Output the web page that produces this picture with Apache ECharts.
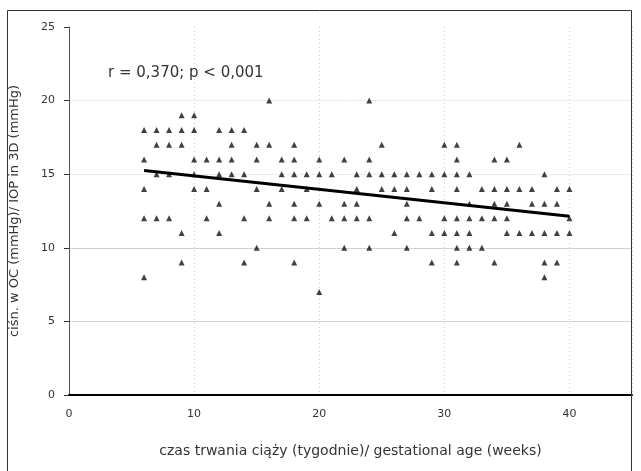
<!DOCTYPE html>
<html>
<head>
<meta charset="utf-8">
<script src="https://cdn.jsdelivr.net/npm/echarts@6/dist/echarts.min.js"></script>
<style>
html,body{margin:0;padding:0;background:#fff;}
#chart{width:641px;height:471px;}
</style>
</head>
<body>
<div id="chart"></div>
<script>
// gestational age (weeks) and measured values, one array per week
const weeks = [6,7,8,9,10,11,12,13,14,15,16,17,18,19,20,21,22,23,24,25,26,27,28,29,30,31,32,33,34,35,36,37,38,39,40];
const valuesByWeek = [
  [18,16,14,12,8],
  [18,17,15,12],
  [18,17,15,12],
  [19,18,17,11,9],
  [19,18,16,15,14],
  [16,14,12],
  [18,16,15,13,11],
  [18,17,16,15],
  [18,15,12,9],
  [17,16,14,10],
  [20,17,13,12],
  [16,15,14],
  [17,16,15,13,12,9],
  [15,14,12],
  [16,15,13,7],
  [15,12],
  [16,13,12,10],
  [15,14,13,12],
  [20,16,15,12,10],
  [17,15,14],
  [15,14,11],
  [15,14,13,12,10],
  [15,12],
  [15,14,11,9],
  [17,15,12,11],
  [17,16,15,14,12,11,10,9],
  [15,13,12,11,10],
  [14,12,10],
  [16,14,13,12,9],
  [16,14,13,12,11],
  [17,14,11],
  [14,13,11],
  [15,13,11,9,8],
  [14,13,11,9],
  [14,12,11]
];
const trendX = [6, 40];
const trendY = [15.25, 12.15];
const xTicks = [0, 10, 20, 30, 40];
const yTicks = [0, 5, 10, 15, 20, 25];
const annotation = 'r = 0,370; p < 0,001';
const xTitle = 'czas trwania ciąży (tygodnie)/ gestational age (weeks)';
const yTitle = 'ciśn. w OC (mmHg)/ IOP in 3D (mmHg)';

const points = [];
weeks.forEach((w, i) => valuesByWeek[i].forEach(v => points.push([w, v])));
const trend = trendX.map((x, i) => [x, trendY[i]]);

const FONT = '"DejaVu Sans", "Liberation Sans", Arial, sans-serif';
const chart = echarts.init(document.getElementById('chart'), null, {renderer: 'canvas'});
chart.setOption({
  animation: false,
  backgroundColor: '#fff',
  grid: {left: 68, right: 9, top: 27, bottom: 76, containLabel: false},
  xAxis: {
    type: 'value', min: 0, max: 45, interval: 10,
    name: xTitle, nameLocation: 'middle', nameGap: 49,
    nameTextStyle: {fontFamily: FONT, fontSize: 14, color: '#333'},
    axisLine: {show: true, lineStyle: {color: '#000', width: 2}},
    axisTick: {show: false},
    axisLabel: {fontFamily: FONT, fontSize: 11, color: '#333', margin: 14,
      formatter: v => xTicks.includes(v) ? String(v) : ''},
    splitLine: {show: true, lineStyle: {color: '#cfcfcf', type: [1, 3], width: 1}}
  },
  yAxis: {
    type: 'value', min: 0, max: 25, interval: 5,
    name: yTitle, nameLocation: 'middle', nameGap: 48, nameRotate: 90,
    nameTextStyle: {fontFamily: FONT, fontSize: 13, color: '#333'},
    axisLine: {show: true, lineStyle: {color: '#555', width: 1}},
    axisTick: {show: true, length: 5, lineStyle: {color: '#333'}},
    axisLabel: {fontFamily: FONT, fontSize: 11, color: '#333', margin: 14,
      formatter: v => yTicks.includes(v) ? String(v) : ''},
    splitLine: {show: true, lineStyle: {color: ['transparent', '#d2d2d2', '#d2d2d2', '#ececec', '#ececec', 'transparent'], width: 1}}
  },
  graphic: [
    {type: 'rect', silent: true, z: 100,
      shape: {x: 7.5, y: 10.5, width: 624, height: 500},
      style: {fill: 'none', stroke: '#333', lineWidth: 1}},
    {type: 'text', left: 108, top: 66, z: 100,
      style: {text: annotation, fontFamily: FONT, fontSize: 15, fill: '#333'}}
  ],
  series: [
    {
      type: 'scatter', data: points, symbol: 'triangle', symbolSize: 6,
      itemStyle: {color: '#111'}, z: 3
    },
    {
      type: 'line', data: trend, symbol: 'none', z: 4,
      lineStyle: {color: '#000', width: 3}
    }
  ]
});
</script>
</body>
</html>
